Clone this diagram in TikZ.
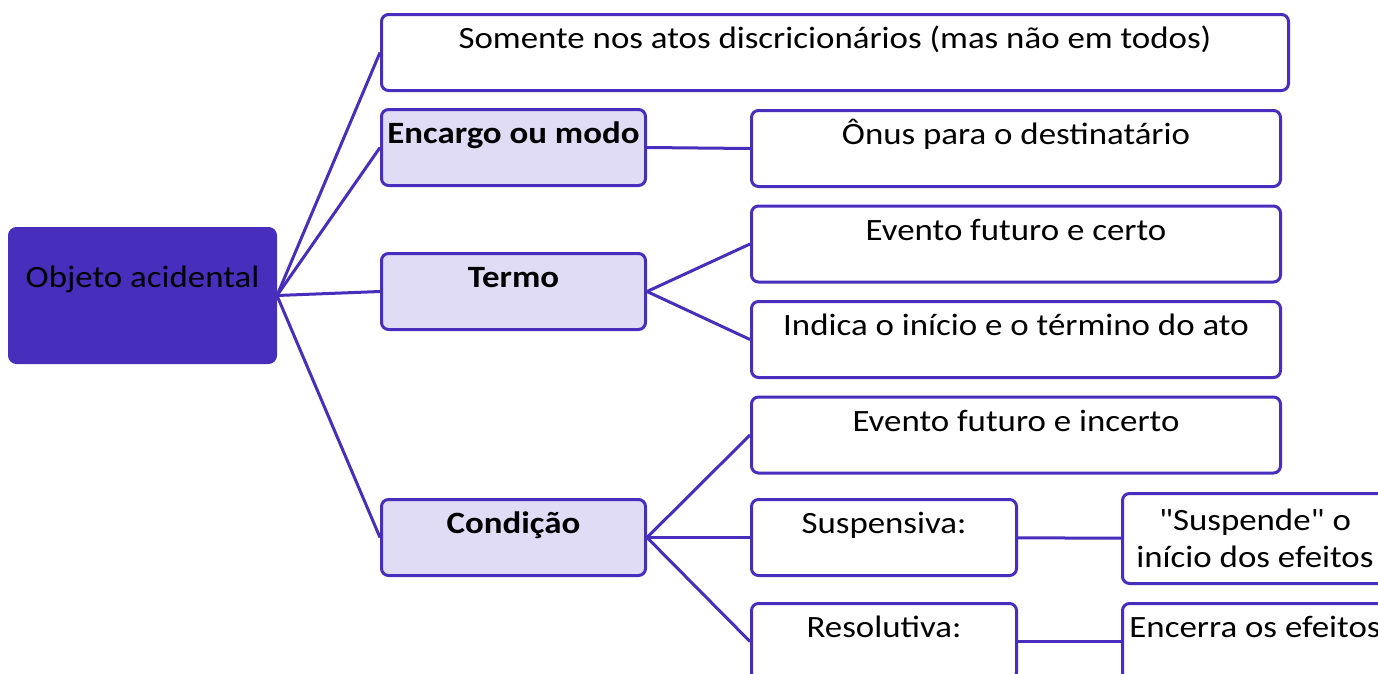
\documentclass[tikz,border=0pt]{standalone}
\usepackage{fontspec}
\setmainfont{Carlito}[Ligatures=TeXOff, FakeStretch=1.125]
\usepackage{tikz}
\definecolor{roxo}{RGB}{72,46,188}
\definecolor{lilas}{RGB}{224,220,245}

\begin{document}
\begin{tikzpicture}[x=1pt, y=-1pt, node distance=95.5pt, auto,
    moldura/.style={draw=roxo, line width=3pt, rounded corners=7pt, inner sep=0pt, font=\fontsize{31}{37}\selectfont},
    caixa/.style={moldura, text height=34pt, text depth=42pt},
    ramo/.style={caixa, fill=lilas, minimum width=264pt, font=\fontsize{31}{37}\selectfont\bfseries},
    folha/.style={caixa, fill=white, minimum width=529pt},
    curta/.style={caixa, fill=white, minimum width=265pt},
    linha/.style={draw=roxo, line width=3pt}]
      \clip (0,0) rectangle (1378,673);
      \node (O) [moldura, fill=roxo, minimum width=266pt, text height=59pt, text depth=75pt, anchor=north west] at (8,227) {Objeto acidental};
      \node (S) [caixa, fill=white, minimum width=907pt, anchor=north west] at (380,13) {Somente nos atos discricionários (mas não em todos)};
      \node (E) [ramo, anchor=north west] at (380,108) {Encargo ou modo};
      \node (T) [ramo, anchor=north west] at (380,252) {Termo};
      \node (C) [ramo, anchor=north west] at (380,498) {Condição};
      \node (On) [folha, anchor=north west] at (750,109) {Ônus para o destinatário};
      \node (T1) [folha, below of=On] {Evento futuro e certo};
      \node (T2) [folha, below of=T1] {Indica o início e o término do ato};
      \node (C1) [folha, below of=T2] {Evento futuro e incerto};
      \node (C2) [curta, anchor=north west] at (750,498) {Suspensiva:};
      \node (C3) [curta, anchor=north west] at (750,602) {Resolutiva:};
      \node (C2a) [moldura, fill=white, minimum width=265pt, minimum height=90pt, align=center, anchor=north west] at (1121,492) {"Suspende" o\\início dos efeitos};
      \node (C3a) [curta, anchor=north west] at (1121,602) {Encerra os efeitos};
    \draw [linha] (O.east) to (S.west);
    \draw [linha] (O.east) to (E.west);
    \draw [linha] (O.east) to (T.west);
    \draw [linha] (O.east) to (C.west);
    \draw [linha] (E.east) to (On.west);
    \draw [linha] (T.east) to (T1.west);
    \draw [linha] (T.east) to (T2.west);
    \draw [linha] (C.east) to (C1.west);
    \draw [linha] (C.east) to (C2.west);
    \draw [linha] (C.east) to (C3.west);
    \draw [linha] (C2) to (C2a);
    \draw [linha] (C3) to (C3a);
      \end{tikzpicture}
\end{document}
